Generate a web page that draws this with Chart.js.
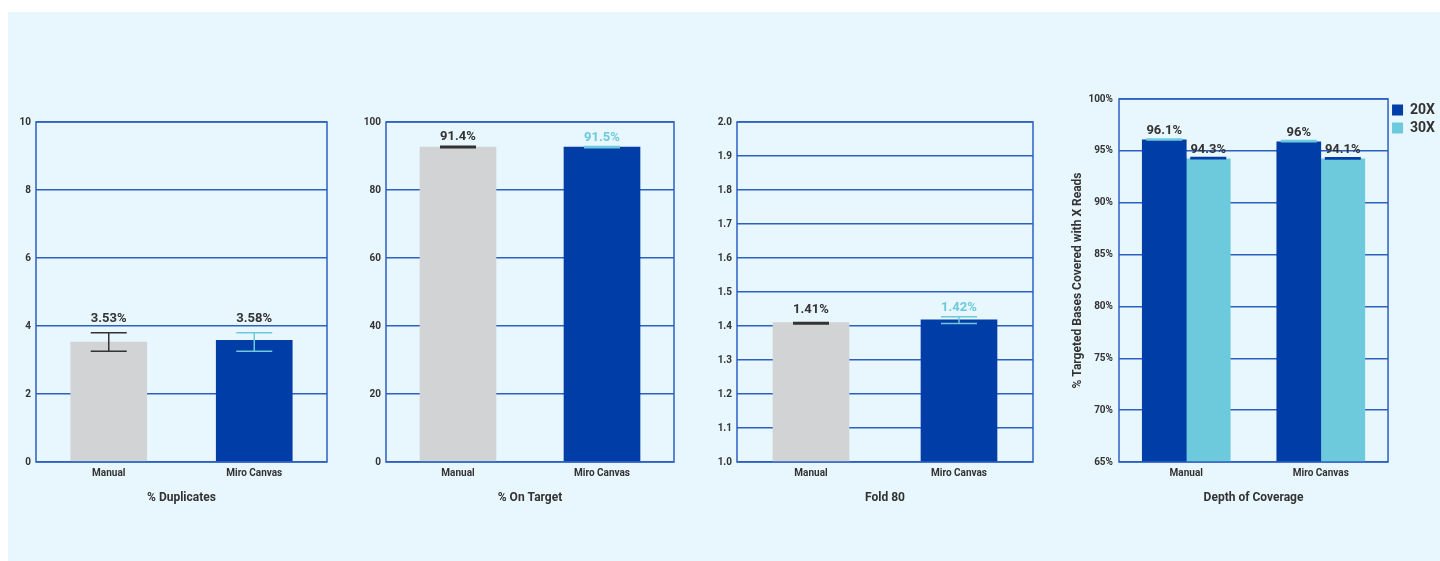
<!DOCTYPE html>
<html lang="en">
<head>
<meta charset="UTF-8">
<title>Manual vs Miro Canvas</title>
<script src="https://cdn.jsdelivr.net/npm/chart.js"></script>
<style>
  html, body { margin: 0; padding: 0; background: #ffffff; overflow: hidden; }
  .panel { position: absolute; left: 8px; top: 12px; width: 1432px; height: 549px; background: #e8f6fd; }
  canvas { position: absolute; }
</style>
</head>
<body>
<div class="panel"></div>
<canvas id="dupChart" width="330" height="420" style="left:10px;top:100px"></canvas>
<canvas id="targetChart" width="330" height="420" style="left:360px;top:100px"></canvas>
<canvas id="foldChart" width="345" height="420" style="left:705px;top:100px"></canvas>
<canvas id="depthChart" width="385" height="440" style="left:1060px;top:80px"></canvas>

<script>
// categories
const categories = ['Manual', 'Miro Canvas'];

// % Duplicates
const dupValues = [3.53, 3.58];
const dupLow = [3.26, 3.26];
const dupHigh = [3.80, 3.80];
const dupLabels = ['3.53%', '3.58%'];
const dupTicks = [0, 2, 4, 6, 8, 10];

// % On Target
const targetValues = [92.6, 92.6];
const targetLow = [92.4, 92.45];
const targetHigh = [92.9, 92.8];
const targetLabels = ['91.4%', '91.5%'];
const targetTicks = [0, 20, 40, 60, 80, 100];

// Fold 80
const foldValues = [1.41, 1.418];
const foldLow = [1.406, 1.407];
const foldHigh = [1.41, 1.427];
const foldLabels = ['1.41%', '1.42%'];
const foldTicks = [1.0, 1.1, 1.2, 1.3, 1.4, 1.5, 1.6, 1.7, 1.8, 1.9, 2.0];

// Depth of Coverage
const depthSeries = ['20X', '30X'];
const depth20 = [96.07, 95.88];
const depth20Low = [96.04, 95.88];
const depth20High = [96.15, 96.0];
const depth20Labels = ['96.1%', '96%'];
const depth30 = [94.24, 94.24];
const depth30Low = [94.24, 94.22];
const depth30High = [94.35, 94.33];
const depth30Labels = ['94.3%', '94.1%'];
const depthTicks = [65, 70, 75, 80, 85, 90, 95, 100];

const gray = '#d1d3d4';
const blue = '#003da6';
const cyan = '#6dcadd';
const dark = '#333333';
const gridColor = '#2d60c3';
const font = 'Roboto';

// box round the plot area
const frame = {
  id: 'frame',
  afterDatasetsDraw(chart) {
    const { ctx, chartArea: a } = chart;
    ctx.save();
    ctx.strokeStyle = gridColor;
    ctx.lineWidth = 1.5;
    ctx.strokeRect(a.left, a.top, a.right - a.left, a.bottom - a.top);
    ctx.restore();
  }
};

// error bars + value labels
const barExtras = {
  id: 'barExtras',
  afterDatasetsDraw(chart, args, opts) {
    const { ctx } = chart;
    const y = chart.scales.y;
    chart.data.datasets.forEach((ds, i) => {
      chart.getDatasetMeta(i).data.forEach((bar, j) => {
        const x = bar.x;
        const hi = y.getPixelForValue(ds.errHigh[j]);
        const lo = y.getPixelForValue(ds.errLow[j]);
        ctx.save();
        ctx.strokeStyle = ds.errColor[j];
        ctx.lineWidth = 1.5;
        ctx.beginPath();
        ctx.moveTo(x - 18, hi); ctx.lineTo(x + 18, hi);
        ctx.moveTo(x - 18, lo); ctx.lineTo(x + 18, lo);
        ctx.moveTo(x, hi); ctx.lineTo(x, lo);
        ctx.stroke();
        const anchor = opts.from === 'err' ? hi : bar.y;
        ctx.fillStyle = ds.labelColor[j];
        ctx.font = 'bold 13px ' + font;
        ctx.textAlign = 'center';
        ctx.textBaseline = 'middle';
        ctx.fillText(ds.valueLabels[j], x, anchor - opts.offset);
        ctx.restore();
      });
    });
  }
};

function makeChart(id, o) {
  return new Chart(document.getElementById(id), {
    type: 'bar',
    data: { labels: categories, datasets: o.datasets },
    options: {
      responsive: false,
      animation: false,
      layout: { padding: { top: o.padTop, right: o.padRight, left: 0, bottom: 0 } },
      plugins: {
        legend: o.legend || { display: false },
        tooltip: { enabled: false },
        barExtras: o.extras
      },
      scales: {
        x: {
          grid: { display: false, drawTicks: false },
          border: { display: false },
          ticks: { color: dark, padding: 5, font: { family: font, size: 10, weight: 'bold' } },
          title: {
            display: true, text: o.xTitle, color: dark,
            padding: { top: 0, bottom: 15 },
            font: { family: font, size: 12, weight: 'bold' }
          },
          afterFit: s => { s.height = 58; }
        },
        y: {
          min: o.ticks[0],
          max: o.ticks[o.ticks.length - 1],
          grid: { color: gridColor, lineWidth: 1.5, drawTicks: false },
          border: { display: false },
          ticks: {
            color: dark, padding: o.tickPad,
            font: { family: font, size: 10, weight: 'bold' },
            callback: o.fmt
          },
          title: o.yTitle ? {
            display: true, text: o.yTitle, color: dark,
            padding: { top: 11, bottom: 0 },
            font: { family: font, size: 12, weight: 'bold' }
          } : { display: false },
          afterBuildTicks: s => { s.ticks = o.ticks.map(v => ({ value: v })); },
          afterFit: s => { s.width = o.yWidth; }
        }
      }
    },
    plugins: [frame, barExtras]
  });
}

makeChart('dupChart', {
  datasets: [{
    data: dupValues, backgroundColor: [gray, blue], barThickness: 76,
    errLow: dupLow, errHigh: dupHigh, errColor: [dark, cyan],
    valueLabels: dupLabels, labelColor: [dark, dark]
  }],
  ticks: dupTicks, fmt: v => v, xTitle: '% Duplicates',
  padTop: 22, padRight: 13, yWidth: 26, tickPad: 5,
  extras: { from: 'err', offset: 14 }
});

makeChart('targetChart', {
  datasets: [{
    data: targetValues, backgroundColor: [gray, blue], barThickness: 76,
    errLow: targetLow, errHigh: targetHigh, errColor: [dark, cyan],
    valueLabels: targetLabels, labelColor: [dark, cyan]
  }],
  ticks: targetTicks, fmt: v => v, xTitle: '% On Target',
  padTop: 22, padRight: 16, yWidth: 26, tickPad: 5,
  extras: { from: 'err', offset: 9 }
});

makeChart('foldChart', {
  datasets: [{
    data: foldValues, backgroundColor: [gray, blue], barThickness: 76,
    errLow: foldLow, errHigh: foldHigh, errColor: [dark, cyan],
    valueLabels: foldLabels, labelColor: [dark, cyan]
  }],
  ticks: foldTicks, fmt: v => Number(v).toFixed(1), xTitle: 'Fold 80',
  padTop: 22, padRight: 17, yWidth: 32, tickPad: 5,
  extras: { from: 'bar', offset: 12.5 }
});

makeChart('depthChart', {
  datasets: [
    {
      label: depthSeries[0], data: depth20, backgroundColor: blue, barThickness: 44,
      errLow: depth20Low, errHigh: depth20High, errColor: [cyan, cyan],
      valueLabels: depth20Labels, labelColor: [dark, dark]
    },
    {
      label: depthSeries[1], data: depth30, backgroundColor: cyan, barThickness: 44,
      errLow: depth30Low, errHigh: depth30High, errColor: [blue, blue],
      valueLabels: depth30Labels, labelColor: [dark, dark]
    }
  ],
  ticks: depthTicks, fmt: v => v + '%', xTitle: 'Depth of Coverage',
  yTitle: '% Targeted Bases Covered with X Reads',
  padTop: 19, padRight: 0, yWidth: 59, tickPad: 6,
  extras: { from: 'bar', offset: 9 },
  legend: {
    display: true, position: 'right', align: 'start',
    labels: {
      color: dark, boxWidth: 11, boxHeight: 11, padding: 4,
      font: { family: font, size: 14, weight: 'bold' }
    }
  }
});
</script>
</body>
</html>
